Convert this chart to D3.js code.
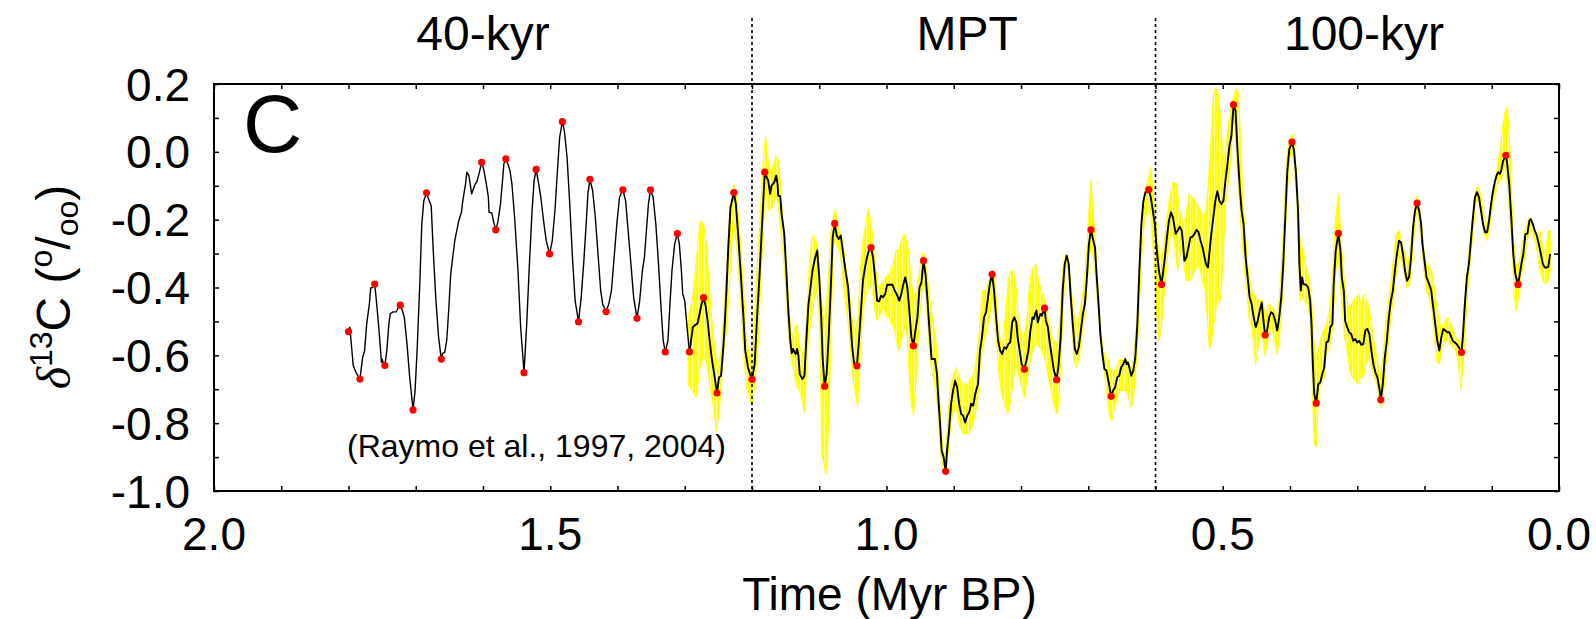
<!DOCTYPE html>
<html><head><meta charset="utf-8">
<script src="https://cdn.jsdelivr.net/npm/d3@7"></script>
<style>
html,body{margin:0;padding:0;background:#fff;}
svg{display:block;}
text{font-family:"Liberation Sans",Arial,sans-serif;fill:#000;}
</style>
</head><body>
<svg id="chart" width="1596" height="619"></svg>
<script>
// ---------------- DATA ----------------
const xTickValues = [2.0, 1.5, 1.0, 0.5, 0.0];
const xTickLabels = ["2.0", "1.5", "1.0", "0.5", "0.0"];
const yTickValues = [-1.0, -0.8, -0.6, -0.4, -0.2, 0.0, 0.2];
const yTickLabels = ["-1.0", "-0.8", "-0.6", "-0.4", "-0.2", "0.0", "0.2"];
const periodNames = ["40-kyr", "MPT", "100-kyr"];
const periodCenters = [1.6, 0.88, 0.29];
const periodBounds = [1.2, 0.6];
const envelopeStart = 1.295;

// black curve: [age (Myr BP), d13C (permil)]
const d13CCurve = [
[1.800,-0.527],[1.798,-0.517],[1.793,-0.630],[1.789,-0.650],[1.783,-0.670],[1.779,-0.606],[1.776,-0.586],[1.773,-0.508],[1.769,-0.449],[1.767,-0.401],[1.764,-0.400],[1.761,-0.390],[1.759,-0.429],[1.755,-0.517],[1.751,-0.621],[1.750,-0.611],[1.748,-0.624],[1.746,-0.630],[1.743,-0.586],[1.740,-0.508],[1.738,-0.478],[1.734,-0.472],[1.729,-0.472],[1.726,-0.458],[1.723,-0.452],[1.720,-0.468],[1.717,-0.488],[1.713,-0.567],[1.709,-0.665],[1.704,-0.761],[1.701,-0.704],[1.698,-0.586],[1.694,-0.390],[1.691,-0.213],[1.688,-0.144],[1.684,-0.121],[1.681,-0.139],[1.677,-0.159],[1.674,-0.291],[1.670,-0.439],[1.666,-0.547],[1.662,-0.611],[1.660,-0.594],[1.657,-0.591],[1.654,-0.557],[1.651,-0.468],[1.648,-0.360],[1.645,-0.311],[1.642,-0.262],[1.639,-0.232],[1.636,-0.203],[1.632,-0.178],[1.630,-0.144],[1.626,-0.095],[1.624,-0.060],[1.621,-0.070],[1.619,-0.095],[1.617,-0.124],[1.615,-0.113],[1.612,-0.097],[1.609,-0.087],[1.606,-0.065],[1.602,-0.031],[1.599,-0.051],[1.595,-0.095],[1.592,-0.134],[1.591,-0.178],[1.587,-0.180],[1.584,-0.208],[1.581,-0.230],[1.578,-0.208],[1.574,-0.154],[1.571,-0.085],[1.569,-0.036],[1.566,-0.021],[1.563,-0.036],[1.560,-0.054],[1.557,-0.095],[1.553,-0.193],[1.548,-0.350],[1.544,-0.517],[1.539,-0.651],[1.535,-0.508],[1.531,-0.331],[1.527,-0.173],[1.524,-0.085],[1.521,-0.052],[1.518,-0.085],[1.514,-0.134],[1.510,-0.203],[1.506,-0.262],[1.501,-0.301],[1.497,-0.262],[1.493,-0.173],[1.489,-0.046],[1.486,0.043],[1.482,0.089],[1.479,0.062],[1.475,-0.016],[1.471,-0.154],[1.467,-0.311],[1.463,-0.439],[1.458,-0.501],[1.454,-0.429],[1.450,-0.321],[1.446,-0.193],[1.444,-0.124],[1.441,-0.081],[1.437,-0.114],[1.433,-0.193],[1.429,-0.301],[1.425,-0.409],[1.422,-0.449],[1.417,-0.471],[1.413,-0.449],[1.409,-0.409],[1.405,-0.311],[1.401,-0.213],[1.397,-0.134],[1.392,-0.112],[1.388,-0.144],[1.385,-0.213],[1.380,-0.331],[1.376,-0.429],[1.371,-0.491],[1.367,-0.439],[1.363,-0.350],[1.360,-0.311],[1.357,-0.232],[1.354,-0.154],[1.351,-0.112],[1.347,-0.134],[1.343,-0.213],[1.339,-0.331],[1.335,-0.468],[1.332,-0.557],[1.329,-0.590],[1.325,-0.557],[1.322,-0.449],[1.319,-0.350],[1.315,-0.272],[1.311,-0.241],[1.308,-0.272],[1.305,-0.350],[1.303,-0.419],[1.300,-0.439],[1.297,-0.508],[1.293,-0.590],[1.290,-0.547],[1.288,-0.517],[1.284,-0.510],[1.281,-0.506],[1.278,-0.478],[1.275,-0.449],[1.272,-0.430],[1.269,-0.454],[1.266,-0.498],[1.263,-0.557],[1.260,-0.606],[1.257,-0.645],[1.254,-0.685],[1.252,-0.711],[1.249,-0.665],[1.246,-0.660],[1.243,-0.586],[1.241,-0.527],[1.238,-0.409],[1.235,-0.272],[1.232,-0.164],[1.227,-0.120],[1.224,-0.154],[1.221,-0.232],[1.217,-0.350],[1.213,-0.478],[1.210,-0.586],[1.206,-0.635],[1.203,-0.655],[1.200,-0.671],[1.196,-0.626],[1.193,-0.508],[1.189,-0.370],[1.185,-0.213],[1.181,-0.060],
[1.176,-0.085],[1.173,-0.124],[1.171,-0.100],[1.167,-0.090],[1.164,-0.070],[1.162,-0.095],[1.161,-0.129],[1.158,-0.131],[1.156,-0.183],[1.152,-0.242],[1.149,-0.350],[1.146,-0.468],[1.143,-0.557],[1.141,-0.594],[1.139,-0.581],[1.137,-0.591],[1.135,-0.596],[1.133,-0.581],[1.131,-0.601],[1.129,-0.655],[1.125,-0.670],[1.122,-0.660],[1.119,-0.547],[1.116,-0.449],[1.113,-0.400],[1.110,-0.350],[1.106,-0.311],[1.103,-0.291],[1.100,-0.370],[1.097,-0.488],[1.095,-0.606],[1.092,-0.691],[1.089,-0.655],[1.086,-0.547],[1.083,-0.409],[1.080,-0.252],[1.077,-0.211],[1.074,-0.247],[1.071,-0.257],[1.068,-0.247],[1.065,-0.291],[1.061,-0.350],[1.057,-0.400],[1.054,-0.488],[1.051,-0.576],[1.048,-0.626],[1.044,-0.631],[1.041,-0.557],[1.038,-0.468],[1.035,-0.380],[1.032,-0.341],[1.029,-0.311],[1.026,-0.291],[1.023,-0.282],[1.020,-0.311],[1.017,-0.370],[1.014,-0.439],[1.011,-0.441],[1.008,-0.424],[1.005,-0.429],[1.002,-0.419],[0.999,-0.392],[0.995,-0.392],[0.991,-0.392],[0.988,-0.409],[0.985,-0.419],[0.981,-0.439],[0.978,-0.419],[0.975,-0.390],[0.972,-0.370],[0.969,-0.400],[0.966,-0.468],[0.963,-0.547],[0.960,-0.572],[0.957,-0.527],[0.954,-0.488],[0.951,-0.400],[0.948,-0.385],[0.945,-0.321],[0.942,-0.360],[0.939,-0.439],[0.936,-0.527],[0.933,-0.611],[0.928,-0.611],[0.925,-0.655],[0.923,-0.724],[0.920,-0.812],[0.918,-0.881],[0.915,-0.901],[0.912,-0.942],[0.910,-0.881],[0.907,-0.822],[0.904,-0.743],[0.901,-0.704],[0.898,-0.675],[0.895,-0.694],[0.892,-0.743],[0.889,-0.773],[0.886,-0.778],[0.883,-0.798],[0.880,-0.778],[0.877,-0.768],[0.874,-0.743],[0.871,-0.748],[0.868,-0.714],[0.864,-0.685],[0.861,-0.586],[0.858,-0.547],[0.855,-0.488],[0.852,-0.473],[0.849,-0.429],[0.846,-0.385],[0.843,-0.361],[0.840,-0.409],[0.837,-0.488],[0.834,-0.557],[0.831,-0.586],[0.828,-0.596],[0.825,-0.576],[0.822,-0.581],[0.819,-0.567],[0.816,-0.562],[0.813,-0.503],[0.810,-0.488],[0.807,-0.503],[0.805,-0.547],[0.802,-0.586],[0.799,-0.626],[0.795,-0.641],[0.792,-0.616],[0.789,-0.586],[0.786,-0.527],[0.783,-0.488],[0.781,-0.493],[0.779,-0.478],[0.777,-0.468],[0.775,-0.503],[0.773,-0.488],[0.771,-0.478],[0.769,-0.483],[0.765,-0.461],[0.763,-0.498],[0.760,-0.517],[0.757,-0.567],[0.754,-0.606],[0.751,-0.645],[0.747,-0.672],[0.744,-0.626],[0.741,-0.547],[0.738,-0.409],[0.735,-0.331],[0.732,-0.306],[0.729,-0.331],[0.726,-0.429],[0.723,-0.508],[0.720,-0.581],[0.717,-0.596],[0.714,-0.576],[0.711,-0.527],[0.708,-0.478],[0.705,-0.449],[0.702,-0.370],[0.699,-0.272],[0.696,-0.230],[0.693,-0.257],[0.690,-0.282],[0.688,-0.350],[0.685,-0.439],[0.682,-0.537],[0.679,-0.596],[0.676,-0.640],[0.673,-0.645],[0.670,-0.675],[0.666,-0.721],[0.663,-0.704],[0.660,-0.694],[0.657,-0.665],[0.654,-0.660],[0.651,-0.635],[0.648,-0.626],[0.645,-0.611],[0.643,-0.626],[0.641,-0.621],[0.639,-0.635],[0.636,-0.660],[0.633,-0.645],[0.630,-0.606],[0.627,-0.508],[0.624,-0.350],[0.621,-0.213],[0.618,-0.144],[0.615,-0.119],[0.612,-0.119],[0.610,-0.111],[0.607,-0.134],[0.604,-0.173],[0.601,-0.213],[0.598,-0.291],[0.595,-0.350],[0.591,-0.391],
[0.589,-0.360],[0.586,-0.311],[0.583,-0.252],[0.580,-0.203],[0.577,-0.178],[0.574,-0.193],[0.572,-0.218],[0.570,-0.242],[0.567,-0.232],[0.564,-0.221],[0.561,-0.232],[0.559,-0.272],[0.557,-0.321],[0.554,-0.311],[0.551,-0.282],[0.548,-0.252],[0.545,-0.250],[0.542,-0.242],[0.539,-0.230],[0.536,-0.237],[0.533,-0.262],[0.530,-0.282],[0.527,-0.311],[0.525,-0.331],[0.522,-0.341],[0.520,-0.301],[0.517,-0.242],[0.514,-0.193],[0.511,-0.144],[0.508,-0.116],[0.505,-0.144],[0.502,-0.154],[0.499,-0.144],[0.496,-0.085],[0.493,-0.036],[0.490,0.018],[0.487,0.048],[0.484,0.139],[0.481,0.121],[0.478,0.003],[0.475,-0.095],[0.472,-0.173],[0.469,-0.213],[0.466,-0.311],[0.463,-0.370],[0.460,-0.429],[0.457,-0.449],[0.454,-0.488],[0.451,-0.517],[0.448,-0.498],[0.445,-0.468],[0.442,-0.444],[0.440,-0.488],[0.437,-0.540],[0.434,-0.527],[0.431,-0.488],[0.428,-0.473],[0.425,-0.478],[0.422,-0.498],[0.419,-0.527],[0.416,-0.488],[0.413,-0.429],[0.410,-0.331],[0.407,-0.193],[0.404,-0.056],[0.401,0.008],[0.397,0.029],[0.394,0.003],[0.391,-0.065],[0.388,-0.173],[0.386,-0.331],[0.384,-0.409],[0.382,-0.370],[0.380,-0.390],[0.376,-0.392],[0.373,-0.400],[0.370,-0.439],[0.368,-0.508],[0.366,-0.626],[0.364,-0.714],[0.361,-0.741],[0.358,-0.685],[0.355,-0.680],[0.352,-0.655],[0.349,-0.635],[0.346,-0.562],[0.343,-0.559],[0.340,-0.517],[0.337,-0.508],[0.335,-0.390],[0.332,-0.291],[0.328,-0.240],[0.325,-0.291],[0.323,-0.370],[0.320,-0.409],[0.318,-0.498],[0.315,-0.517],[0.312,-0.532],[0.309,-0.537],[0.306,-0.557],[0.303,-0.552],[0.300,-0.562],[0.297,-0.557],[0.294,-0.569],[0.291,-0.567],[0.288,-0.527],[0.285,-0.522],[0.282,-0.537],[0.279,-0.586],[0.276,-0.626],[0.273,-0.650],[0.270,-0.665],[0.267,-0.699],[0.265,-0.731],[0.262,-0.685],[0.259,-0.606],[0.256,-0.557],[0.253,-0.488],[0.250,-0.439],[0.247,-0.409],[0.244,-0.350],[0.241,-0.301],[0.238,-0.262],[0.235,-0.267],[0.232,-0.301],[0.229,-0.350],[0.226,-0.380],[0.223,-0.370],[0.220,-0.311],[0.217,-0.223],[0.214,-0.173],[0.211,-0.151],[0.208,-0.173],[0.205,-0.213],[0.203,-0.272],[0.200,-0.321],[0.197,-0.370],[0.193,-0.390],[0.190,-0.409],[0.187,-0.458],[0.184,-0.508],[0.181,-0.557],[0.178,-0.586],[0.175,-0.547],[0.172,-0.522],[0.169,-0.527],[0.166,-0.532],[0.163,-0.532],[0.160,-0.547],[0.158,-0.557],[0.155,-0.562],[0.152,-0.567],[0.149,-0.576],[0.145,-0.591],[0.143,-0.547],[0.140,-0.449],[0.137,-0.370],[0.134,-0.331],[0.131,-0.262],[0.128,-0.193],[0.125,-0.134],[0.122,-0.119],[0.119,-0.134],[0.116,-0.173],[0.113,-0.213],[0.110,-0.237],[0.107,-0.237],[0.104,-0.203],[0.101,-0.154],[0.098,-0.114],[0.095,-0.085],[0.092,-0.065],[0.090,-0.060],[0.088,-0.065],[0.086,-0.056],[0.083,-0.026],[0.079,-0.010],[0.077,-0.036],[0.074,-0.095],[0.071,-0.193],[0.068,-0.301],[0.065,-0.360],[0.061,-0.391],[0.059,-0.370],[0.056,-0.331],[0.053,-0.301],[0.050,-0.242],[0.047,-0.242],[0.044,-0.203],[0.042,-0.198],[0.039,-0.213],[0.036,-0.232],[0.033,-0.247],[0.030,-0.272],[0.027,-0.301],[0.024,-0.331],[0.021,-0.341],[0.018,-0.341],[0.016,-0.339],[0.013,-0.301]
];

// red dots: local extrema [age, d13C]
const extrema = [
[1.800,-0.530],[1.783,-0.670],[1.761,-0.390],[1.746,-0.630],[1.723,-0.452],[1.704,-0.761],[1.684,-0.121],[1.662,-0.611],[1.602,-0.031],[1.581,-0.230],[1.566,-0.021],[1.539,-0.651],[1.521,-0.052],[1.501,-0.301],[1.482,0.089],[1.458,-0.501],[1.441,-0.081],[1.417,-0.471],[1.392,-0.112],[1.371,-0.491],[1.351,-0.112],[1.329,-0.590],[1.311,-0.241],[1.293,-0.590],[1.272,-0.430],[1.252,-0.711],[1.227,-0.120],[1.200,-0.671],[1.181,-0.060],[1.092,-0.691],[1.077,-0.211],[1.044,-0.631],[1.023,-0.282],[0.960,-0.572],[0.945,-0.321],[0.912,-0.942],[0.843,-0.361],[0.795,-0.641],[0.765,-0.461],[0.747,-0.672],[0.696,-0.230],[0.666,-0.721],[0.610,-0.111],[0.591,-0.391],[0.484,0.139],[0.437,-0.540],[0.397,0.029],[0.361,-0.741],[0.328,-0.240],[0.265,-0.731],[0.211,-0.151],[0.145,-0.591],[0.079,-0.010],[0.061,-0.391]
];

// uncertainty envelope: upper and lower bounds [age, d13C]
const bandUpper = [
[1.295,-0.488],[1.288,-0.429],[1.280,-0.262],[1.277,-0.203],[1.272,-0.213],[1.268,-0.272],[1.264,-0.390],[1.260,-0.488],[1.256,-0.567],[1.251,-0.645],[1.246,-0.586],[1.242,-0.488],[1.238,-0.350],[1.233,-0.173],[1.227,-0.095],[1.223,-0.124],[1.218,-0.242],[1.213,-0.390],[1.209,-0.547],[1.205,-0.586],[1.201,-0.606],[1.198,-0.567],[1.194,-0.390],[1.188,-0.193],[1.184,-0.046],[1.180,0.048],
[1.176,-0.026],[1.172,-0.065],[1.168,-0.036],[1.164,-0.011],[1.160,-0.026],[1.158,-0.095],[1.154,-0.213],[1.150,-0.311],[1.146,-0.429],[1.142,-0.537],[1.139,-0.537],[1.136,-0.517],[1.133,-0.508],[1.130,-0.567],[1.126,-0.596],[1.122,-0.586],[1.119,-0.488],[1.115,-0.350],[1.111,-0.247],[1.107,-0.252],[1.103,-0.272],[1.100,-0.350],[1.097,-0.429],[1.094,-0.488],[1.091,-0.478],[1.087,-0.390],[1.083,-0.242],[1.079,-0.193],[1.076,-0.169],[1.073,-0.213],[1.069,-0.242],[1.065,-0.262],[1.061,-0.331],[1.057,-0.390],[1.054,-0.439],[1.050,-0.508],[1.046,-0.527],[1.042,-0.478],[1.039,-0.350],[1.035,-0.262],[1.031,-0.213],[1.027,-0.169],[1.023,-0.213],[1.020,-0.262],[1.016,-0.350],[1.012,-0.400],[1.008,-0.390],[1.004,-0.380],[1.000,-0.365],[0.995,-0.360],[0.990,-0.331],[0.986,-0.291],[0.982,-0.291],[0.978,-0.262],[0.974,-0.242],[0.970,-0.262],[0.966,-0.311],[0.963,-0.390],[0.959,-0.429],[0.955,-0.409],[0.951,-0.350],[0.947,-0.301],[0.944,-0.301],[0.940,-0.350],[0.936,-0.429],[0.932,-0.488],[0.928,-0.537],[0.925,-0.586],[0.923,-0.665],[0.920,-0.763],[0.917,-0.861],[0.914,-0.901],[0.911,-0.861],[0.908,-0.763],[0.905,-0.685],[0.901,-0.665],[0.897,-0.635],[0.893,-0.655],[0.889,-0.685],[0.885,-0.685],[0.881,-0.685],[0.877,-0.675],[0.873,-0.665],[0.869,-0.645],[0.865,-0.586],[0.861,-0.508],[0.857,-0.409],[0.853,-0.409],[0.849,-0.390],[0.845,-0.360],[0.842,-0.350],[0.838,-0.390],[0.835,-0.488],[0.831,-0.547],[0.827,-0.567],[0.823,-0.480],[0.819,-0.380],[0.815,-0.350],[0.811,-0.355],[0.807,-0.409],[0.804,-0.488],[0.800,-0.537],[0.796,-0.547],[0.792,-0.508],[0.788,-0.409],[0.784,-0.350],[0.781,-0.341],[0.778,-0.331],[0.774,-0.380],[0.770,-0.409],[0.766,-0.429],[0.762,-0.468],[0.758,-0.508],[0.754,-0.547],[0.750,-0.557],[0.746,-0.567],[0.742,-0.488],[0.738,-0.350],[0.734,-0.301],[0.730,-0.311],[0.726,-0.390],[0.722,-0.468],[0.718,-0.508],[0.714,-0.488],[0.710,-0.439],[0.706,-0.390],[0.702,-0.291],[0.699,-0.173],[0.696,-0.085],[0.693,-0.173],[0.690,-0.252],[0.687,-0.350],[0.683,-0.488],[0.679,-0.567],[0.675,-0.606],[0.671,-0.606],[0.667,-0.645],[0.663,-0.645],[0.659,-0.645],[0.655,-0.616],[0.651,-0.611],[0.647,-0.616],[0.643,-0.611],[0.639,-0.626],[0.635,-0.645],[0.631,-0.576],[0.627,-0.468],[0.623,-0.311],[0.619,-0.173],[0.615,-0.105],[0.611,-0.085],[0.607,-0.046],
[0.604,-0.114],[0.599,-0.213],[0.594,-0.311],[0.589,-0.291],[0.584,-0.213],[0.579,-0.134],[0.574,-0.090],[0.569,-0.095],[0.564,-0.173],[0.559,-0.213],[0.555,-0.193],[0.550,-0.124],[0.545,-0.134],[0.540,-0.149],[0.535,-0.164],[0.530,-0.193],[0.525,-0.173],[0.521,-0.085],[0.517,0.053],[0.514,0.161],[0.511,0.190],[0.507,0.171],[0.503,0.092],[0.499,-0.026],[0.496,0.003],[0.492,0.072],[0.487,0.141],[0.482,0.171],[0.479,0.190],[0.476,0.161],[0.473,0.003],[0.470,-0.144],[0.466,-0.252],[0.462,-0.350],[0.458,-0.400],[0.454,-0.419],[0.450,-0.429],[0.445,-0.439],[0.441,-0.439],[0.438,-0.468],[0.435,-0.478],[0.432,-0.449],[0.428,-0.454],[0.424,-0.468],[0.420,-0.488],[0.416,-0.439],[0.412,-0.311],[0.408,-0.154],[0.404,0.003],[0.401,0.033],[0.397,0.053],[0.393,0.013],[0.390,-0.095],[0.387,-0.223],[0.384,-0.272],[0.380,-0.291],[0.376,-0.341],[0.372,-0.370],[0.368,-0.429],[0.365,-0.547],[0.362,-0.606],[0.358,-0.586],[0.354,-0.547],[0.350,-0.527],[0.346,-0.508],[0.342,-0.478],[0.338,-0.409],[0.335,-0.291],[0.332,-0.193],[0.328,-0.124],[0.325,-0.232],[0.322,-0.311],[0.318,-0.409],[0.314,-0.449],[0.310,-0.458],[0.306,-0.439],[0.302,-0.429],[0.298,-0.419],[0.294,-0.449],[0.290,-0.419],[0.286,-0.439],[0.282,-0.468],[0.278,-0.517],[0.274,-0.576],[0.270,-0.616],[0.266,-0.665],[0.262,-0.616],[0.258,-0.508],[0.254,-0.449],[0.250,-0.390],[0.246,-0.311],[0.242,-0.242],[0.238,-0.232],[0.234,-0.262],[0.230,-0.291],[0.226,-0.331],[0.222,-0.301],[0.218,-0.223],[0.214,-0.154],[0.211,-0.129],[0.208,-0.154],[0.204,-0.223],[0.201,-0.291],[0.197,-0.331],[0.193,-0.341],[0.189,-0.350],[0.185,-0.409],[0.181,-0.468],[0.177,-0.508],[0.173,-0.517],[0.169,-0.498],[0.165,-0.488],[0.161,-0.508],[0.157,-0.527],[0.153,-0.547],[0.149,-0.557],[0.146,-0.576],[0.142,-0.488],[0.139,-0.409],[0.135,-0.311],[0.131,-0.232],[0.127,-0.164],[0.123,-0.105],[0.119,-0.105],[0.115,-0.144],[0.111,-0.193],[0.107,-0.213],[0.103,-0.183],[0.099,-0.124],[0.095,-0.095],[0.091,-0.036],[0.087,0.013],[0.083,0.082],[0.080,0.121],[0.077,0.131],[0.074,0.053],[0.071,-0.095],[0.068,-0.252],[0.064,-0.331],[0.060,-0.331],[0.056,-0.291],[0.052,-0.242],[0.048,-0.213],[0.044,-0.193],[0.040,-0.213],[0.036,-0.232],[0.032,-0.252],[0.028,-0.232],[0.024,-0.291],[0.020,-0.301],[0.016,-0.232],[0.013,-0.232]
];
const bandLower = [
[1.295,-0.689],[1.288,-0.704],[1.283,-0.724],[1.278,-0.645],[1.273,-0.606],[1.268,-0.616],[1.263,-0.685],[1.258,-0.743],[1.253,-0.822],[1.249,-0.773],[1.246,-0.685],[1.242,-0.586],[1.238,-0.527],[1.234,-0.409],[1.230,-0.272],[1.227,-0.213],[1.223,-0.272],[1.218,-0.409],[1.213,-0.567],[1.209,-0.685],[1.204,-0.724],[1.200,-0.748],[1.196,-0.685],[1.191,-0.567],[1.186,-0.350],[1.181,-0.144],
[1.179,-0.124],[1.175,-0.173],[1.172,-0.173],[1.168,-0.154],[1.164,-0.124],[1.161,-0.154],[1.159,-0.193],[1.156,-0.262],[1.153,-0.311],[1.149,-0.429],[1.145,-0.547],[1.141,-0.616],[1.137,-0.655],[1.134,-0.685],[1.130,-0.704],[1.126,-0.724],[1.122,-0.768],[1.119,-0.645],[1.116,-0.547],[1.113,-0.508],[1.110,-0.468],[1.107,-0.429],[1.104,-0.409],[1.101,-0.449],[1.099,-0.547],[1.096,-0.891],[1.093,-0.920],[1.090,-0.950],[1.087,-0.842],[1.084,-0.645],[1.081,-0.429],[1.079,-0.282],[1.076,-0.252],[1.072,-0.291],[1.069,-0.296],[1.066,-0.350],[1.062,-0.429],[1.058,-0.488],[1.054,-0.567],[1.050,-0.665],[1.046,-0.714],[1.043,-0.753],[1.041,-0.665],[1.038,-0.567],[1.035,-0.468],[1.032,-0.429],[1.028,-0.409],[1.024,-0.390],[1.021,-0.409],[1.017,-0.468],[1.014,-0.498],[1.011,-0.488],[1.007,-0.468],[1.004,-0.458],[1.000,-0.488],[0.996,-0.488],[0.992,-0.508],[0.988,-0.527],[0.984,-0.567],[0.981,-0.586],[0.978,-0.557],[0.975,-0.527],[0.972,-0.517],[0.969,-0.547],[0.966,-0.665],[0.963,-0.743],[0.960,-0.778],[0.957,-0.704],[0.954,-0.586],[0.951,-0.488],[0.948,-0.439],[0.945,-0.350],[0.942,-0.409],[0.939,-0.508],[0.936,-0.586],[0.933,-0.645],[0.930,-0.665],[0.926,-0.714],[0.923,-0.773],[0.921,-0.861],[0.918,-0.911],[0.915,-0.940],[0.912,-0.955],[0.910,-0.911],[0.907,-0.861],[0.904,-0.793],[0.901,-0.773],[0.897,-0.743],[0.893,-0.793],[0.889,-0.822],[0.885,-0.832],[0.881,-0.832],[0.877,-0.827],[0.873,-0.812],[0.869,-0.783],[0.865,-0.743],[0.862,-0.665],[0.859,-0.606],[0.856,-0.567],[0.853,-0.547],[0.849,-0.508],[0.846,-0.478],[0.843,-0.419],[0.840,-0.478],[0.836,-0.576],[0.832,-0.665],[0.828,-0.724],[0.824,-0.743],[0.820,-0.773],[0.816,-0.743],[0.812,-0.685],[0.809,-0.626],[0.806,-0.635],[0.803,-0.665],[0.799,-0.694],[0.795,-0.724],[0.792,-0.685],[0.788,-0.635],[0.784,-0.596],[0.781,-0.576],[0.777,-0.567],[0.773,-0.576],[0.769,-0.586],[0.765,-0.606],[0.761,-0.645],[0.757,-0.685],[0.753,-0.724],[0.749,-0.763],[0.746,-0.773],[0.743,-0.704],[0.740,-0.586],[0.737,-0.449],[0.734,-0.350],[0.731,-0.331],[0.727,-0.409],[0.724,-0.527],[0.721,-0.616],[0.718,-0.635],[0.714,-0.616],[0.711,-0.567],[0.707,-0.508],[0.703,-0.429],[0.699,-0.321],[0.696,-0.272],[0.693,-0.311],[0.690,-0.350],[0.688,-0.409],[0.684,-0.488],[0.680,-0.586],[0.676,-0.655],[0.672,-0.714],[0.668,-0.783],[0.665,-0.793],[0.662,-0.763],[0.659,-0.743],[0.656,-0.714],[0.652,-0.704],[0.648,-0.704],[0.644,-0.704],[0.640,-0.724],[0.637,-0.753],[0.634,-0.743],[0.631,-0.685],[0.627,-0.586],[0.623,-0.409],[0.619,-0.252],[0.615,-0.193],[0.611,-0.173],[0.607,-0.183],
[0.605,-0.252],[0.601,-0.350],[0.598,-0.488],[0.595,-0.557],[0.592,-0.527],[0.589,-0.468],[0.586,-0.390],[0.583,-0.331],[0.580,-0.272],[0.576,-0.232],[0.573,-0.252],[0.570,-0.311],[0.567,-0.350],[0.564,-0.311],[0.561,-0.272],[0.558,-0.331],[0.554,-0.380],[0.550,-0.380],[0.546,-0.370],[0.542,-0.350],[0.538,-0.331],[0.534,-0.350],[0.530,-0.380],[0.526,-0.409],[0.523,-0.488],[0.520,-0.581],[0.517,-0.567],[0.514,-0.508],[0.511,-0.488],[0.508,-0.409],[0.505,-0.449],[0.502,-0.409],[0.499,-0.291],[0.496,-0.154],[0.492,-0.095],[0.488,-0.026],[0.485,0.082],[0.482,0.082],[0.479,-0.036],[0.476,-0.124],[0.473,-0.213],[0.470,-0.291],[0.467,-0.360],[0.464,-0.409],[0.461,-0.488],[0.457,-0.517],[0.454,-0.567],[0.451,-0.626],[0.448,-0.586],[0.445,-0.547],[0.442,-0.527],[0.440,-0.557],[0.437,-0.601],[0.434,-0.567],[0.431,-0.527],[0.428,-0.527],[0.425,-0.537],[0.422,-0.567],[0.419,-0.596],[0.416,-0.547],[0.413,-0.488],[0.410,-0.390],[0.407,-0.232],[0.403,-0.095],[0.400,-0.016],[0.397,0.003],[0.394,-0.036],[0.391,-0.114],[0.388,-0.252],[0.385,-0.439],[0.382,-0.429],[0.378,-0.439],[0.374,-0.449],[0.370,-0.488],[0.367,-0.685],[0.364,-0.861],[0.361,-0.871],[0.358,-0.743],[0.355,-0.685],[0.352,-0.675],[0.349,-0.665],[0.346,-0.586],[0.343,-0.586],[0.340,-0.567],[0.336,-0.508],[0.332,-0.350],[0.328,-0.311],[0.325,-0.390],[0.323,-0.449],[0.319,-0.547],[0.315,-0.586],[0.311,-0.645],[0.307,-0.665],[0.303,-0.675],[0.299,-0.685],[0.295,-0.665],[0.291,-0.665],[0.287,-0.626],[0.283,-0.606],[0.279,-0.635],[0.275,-0.665],[0.271,-0.685],[0.267,-0.734],[0.264,-0.753],[0.261,-0.714],[0.258,-0.645],[0.254,-0.567],[0.250,-0.488],[0.246,-0.429],[0.242,-0.360],[0.238,-0.311],[0.234,-0.321],[0.230,-0.360],[0.226,-0.400],[0.222,-0.390],[0.218,-0.311],[0.214,-0.213],[0.211,-0.173],[0.208,-0.213],[0.204,-0.272],[0.201,-0.350],[0.197,-0.409],[0.193,-0.429],[0.189,-0.468],[0.185,-0.547],[0.182,-0.616],[0.178,-0.626],[0.174,-0.576],[0.170,-0.557],[0.166,-0.557],[0.162,-0.567],[0.158,-0.576],[0.154,-0.586],[0.150,-0.616],[0.146,-0.699],[0.142,-0.616],[0.139,-0.508],[0.135,-0.390],[0.131,-0.301],[0.127,-0.223],[0.123,-0.144],[0.119,-0.144],[0.115,-0.193],[0.111,-0.242],[0.107,-0.262],[0.103,-0.223],[0.099,-0.164],[0.095,-0.124],[0.091,-0.095],[0.087,-0.085],[0.083,-0.065],[0.080,-0.036],[0.077,-0.095],[0.074,-0.173],[0.070,-0.272],[0.067,-0.409],[0.064,-0.468],[0.060,-0.429],[0.056,-0.370],[0.052,-0.321],[0.048,-0.272],[0.044,-0.232],[0.040,-0.242],[0.036,-0.262],[0.032,-0.301],[0.028,-0.350],[0.024,-0.380],[0.020,-0.390],[0.016,-0.380],[0.013,-0.350]
];

// ---------------- CHART ----------------
const svg = d3.select("#chart");
const m = {left: 214, right: 1559, top: 84, bottom: 491};
const x = d3.scaleLinear().domain([2, 0]).range([m.left, m.right]);
const y = d3.scaleLinear().domain([-1, 0.2]).range([m.bottom, m.top]);

// hatch pattern for the envelope
const defs = svg.append("defs");
const pat = defs.append("pattern").attr("id", "hatch").attr("patternUnits", "userSpaceOnUse")
  .attr("width", 3).attr("height", 10);
pat.append("rect").attr("width", 3).attr("height", 10).attr("fill", "#ffffa8");
pat.append("rect").attr("width", 2).attr("height", 10).attr("fill", "#ffff00");

// envelope polygon
const bandPoly = bandUpper.concat(bandLower.slice().reverse());
const polyLine = d3.line().x(d => x(d[0])).y(d => y(d[1]));
svg.append("path").attr("d", polyLine(bandPoly) + "Z")
  .attr("fill", "url(#hatch)").attr("stroke", "#ffff00").attr("stroke-width", 1);

// dotted period boundaries
svg.selectAll(".bound").data(periodBounds).enter().append("line")
  .attr("x1", d => x(d)).attr("x2", d => x(d)).attr("y1", 18).attr("y2", m.bottom)
  .attr("stroke", "#000").attr("stroke-width", 1.6).attr("stroke-dasharray", "3,3");

// black curve (thin before the envelope, bolder within it)
const oldPart = d13CCurve.filter(d => d[0] >= envelopeStart - 0.003);
const newPart = d13CCurve.filter(d => d[0] <= envelopeStart - 0.002);
svg.append("path").datum(oldPart).attr("d", polyLine)
  .attr("fill", "none").attr("stroke", "#000").attr("stroke-width", 1.4).attr("stroke-linejoin", "round");
svg.append("path").datum(newPart).attr("d", polyLine)
  .attr("fill", "none").attr("stroke", "#000").attr("stroke-width", 1.9).attr("stroke-linejoin", "round");

// red extrema dots
svg.selectAll(".ext").data(extrema).enter().append("circle")
  .attr("cx", d => x(d[0])).attr("cy", d => y(d[1])).attr("r", 3.6).attr("fill", "#ff0000");

// axes: minor ticks every 0.1 inward on all sides
const xMinor = d3.range(0, 21).map(i => i / 10);
const yMinor = d3.range(-10, 3).map(i => i / 10);
const tickLen = 5;

const gb = svg.append("g").attr("transform", `translate(0,${m.bottom})`)
  .call(d3.axisBottom(x).tickValues(xMinor).tickSizeInner(-tickLen).tickSizeOuter(0).tickFormat(""));
const gt = svg.append("g").attr("transform", `translate(0,${m.top})`)
  .call(d3.axisTop(x).tickValues(xMinor).tickSizeInner(-tickLen).tickSizeOuter(0).tickFormat(""));
const gl = svg.append("g").attr("transform", `translate(${m.left},0)`)
  .call(d3.axisLeft(y).tickValues(yMinor).tickSizeInner(-tickLen).tickSizeOuter(0).tickFormat(""));
const gr = svg.append("g").attr("transform", `translate(${m.right},0)`)
  .call(d3.axisRight(y).tickValues(yMinor).tickSizeInner(-tickLen).tickSizeOuter(0).tickFormat(""));
[gb, gt, gl, gr].forEach(g => {
  g.select(".domain").remove();
  g.selectAll(".tick line").attr("stroke", "#000").attr("stroke-width", 1.5);
});

// frame
svg.append("rect").attr("x", m.left).attr("y", m.top)
  .attr("width", m.right - m.left).attr("height", m.bottom - m.top)
  .attr("fill", "none").attr("stroke", "#000").attr("stroke-width", 2);

// x tick labels
svg.selectAll(".xl").data(xTickValues).enter().append("text")
  .attr("x", d => x(d)).attr("y", 550).attr("text-anchor", "middle")
  .style("font-size", "46px").text((d, i) => xTickLabels[i]);

// y tick labels
svg.selectAll(".yl").data(yTickValues).enter().append("text")
  .attr("x", 190).attr("y", d => y(d)).attr("dy", "0.36em").attr("text-anchor", "end")
  .style("font-size", "46px").text((d, i) => yTickLabels[i]);

// period labels
svg.selectAll(".pl").data(periodNames).enter().append("text")
  .attr("x", (d, i) => x(periodCenters[i])).attr("y", 50).attr("text-anchor", "middle")
  .style("font-size", "48px").text(d => d);

// panel letter
svg.append("text").attr("x", 243).attr("y", 152).style("font-size", "82px").text("C");

// source note
svg.append("text").attr("x", 347).attr("y", 457).style("font-size", "32px").text("(Raymo et al., 1997, 2004)");

// x title
svg.append("text").attr("x", (m.left + m.right) / 2 + 3).attr("y", 610).attr("text-anchor", "middle")
  .style("font-size", "46px").text("Time (Myr BP)");

// y title
const yt = svg.append("text").attr("transform", "translate(70,287) rotate(-90)")
  .attr("text-anchor", "middle").style("font-size", "48px");
yt.append("tspan").style("font-family", "'Liberation Serif', serif").style("font-style", "italic").text("δ");
yt.append("tspan").attr("dy", -18).style("font-size", "32px").text("13");
yt.append("tspan").attr("dy", 18).text("C (");
yt.append("tspan").attr("dy", -18).style("font-size", "32px").text("o");
yt.append("tspan").attr("dy", 18).text("/");
yt.append("tspan").attr("dy", 8).style("font-size", "32px").text("oo");
yt.append("tspan").attr("dy", -8).text(")");
</script>
</body></html>
